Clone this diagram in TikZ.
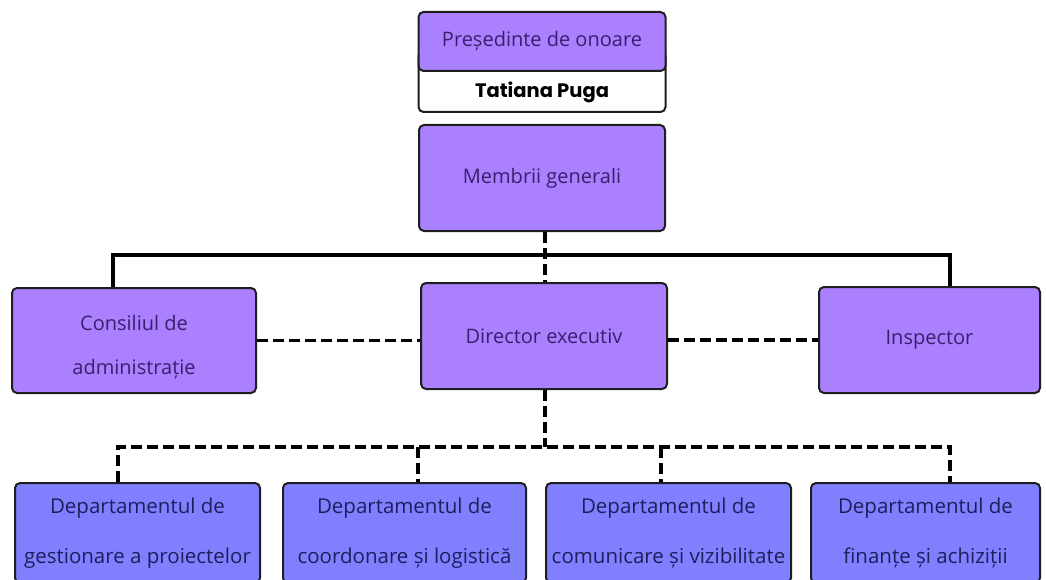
\documentclass[tikz,border=0pt]{standalone}
\usepackage{fontspec}
\setmainfont{Open Sans}
\newfontfamily\popfont{Poppins}
\definecolor{toppurple}{HTML}{AA80FF}
\definecolor{botblue}{HTML}{8080FF}
\definecolor{toptext}{HTML}{3B1E6E}
\definecolor{bottext}{HTML}{1E1E5E}
\definecolor{edge}{HTML}{1E1E1E}
\tikzset{
  box/.style={draw=edge, line width=2pt, rounded corners=5pt, inner sep=0pt, align=center},
  upbox/.style={box, fill=toppurple, text=toptext, font=\fontsize{20}{44}\selectfont},
  lowbox/.style={box, fill=botblue, text=bottext, font=\fontsize{20.5}{50}\selectfont},
  solidlink/.style={draw=black, line width=3.5pt},
  dashlink/.style={draw=black, line width=3.5pt, dash pattern=on 11pt off 5pt},
}
\begin{document}
\begin{tikzpicture}[x=1pt,y=-1pt]
\useasboundingbox (0,0) rectangle (1046,580);
\clip (0,0) rectangle (1046,580);
% top
\node[box, fill=white, minimum width=247pt, minimum height=61pt, anchor=north] (name) at (542,50) {};
\node[font=\popfont\bfseries\fontsize{19.5}{22}\selectfont] (namet) at (542,92) {Tatiana Puga};
\node[upbox, minimum width=247pt, minimum height=59pt] (pres) at (542,41.5) {Președinte de onoare};
\node[upbox, minimum width=246pt, minimum height=106pt] (memb) at (542,178) {Membrii generali};
% middle row
\node[upbox, minimum width=244pt, minimum height=105pt] (cons) at (134,340.5) {\rule{0pt}{28pt}Consiliul de\\administrație};
\node[upbox, minimum width=246pt, minimum height=106pt] (dir) at (544,336) {Director executiv};
\node[upbox, minimum width=221pt, minimum height=106pt] (insp) at (929.5,340) {Inspector};
% bottom row
\node[lowbox, minimum width=245pt, minimum height=100pt] (d1) at (137.5,533) {Departamentul de\\gestionare a proiectelor};
\node[lowbox, minimum width=243pt, minimum height=100pt] (d2) at (404.5,533) {Departamentul de\\coordonare și logistică};
\node[lowbox, minimum width=245pt, minimum height=100pt] (d3) at (668.5,533) {Departamentul de\\comunicare și vizibilitate};
\node[lowbox, minimum width=229pt, minimum height=100pt] (d4) at (925.5,533) {Departamentul de\\finanțe și achiziții};
% coordinates
\coordinate (busL) at (113,255);
\coordinate (busR) at (950,255);
\coordinate (bus2) at (545,447);
\coordinate (b1) at (118,447);
\coordinate (b2) at (418,447);
\coordinate (b3) at (661,447);
\coordinate (b4) at (950,447);
% solid bus
\draw[solidlink] (cons.north -| busL) -- (busL) -- (busR) -- (insp.north -| busR);
% dashed
\draw[dashlink] (memb.south -| bus2) -- (dir.north -| bus2);
\draw[dashlink] (cons.east) -- (cons.east -| dir.west);
\draw[dashlink] (dir.east |- insp.west) -- (insp.west);
\draw[dashlink] (dir.south -| bus2) -- (bus2);
\draw[dashlink] (d1.north -| b1) -- (b1) -- (b4) -- (d4.north -| b4);
\draw[dashlink] (b2) -- (d2.north -| b2);
\draw[dashlink] (b3) -- (d3.north -| b3);
\end{tikzpicture}
\end{document}
